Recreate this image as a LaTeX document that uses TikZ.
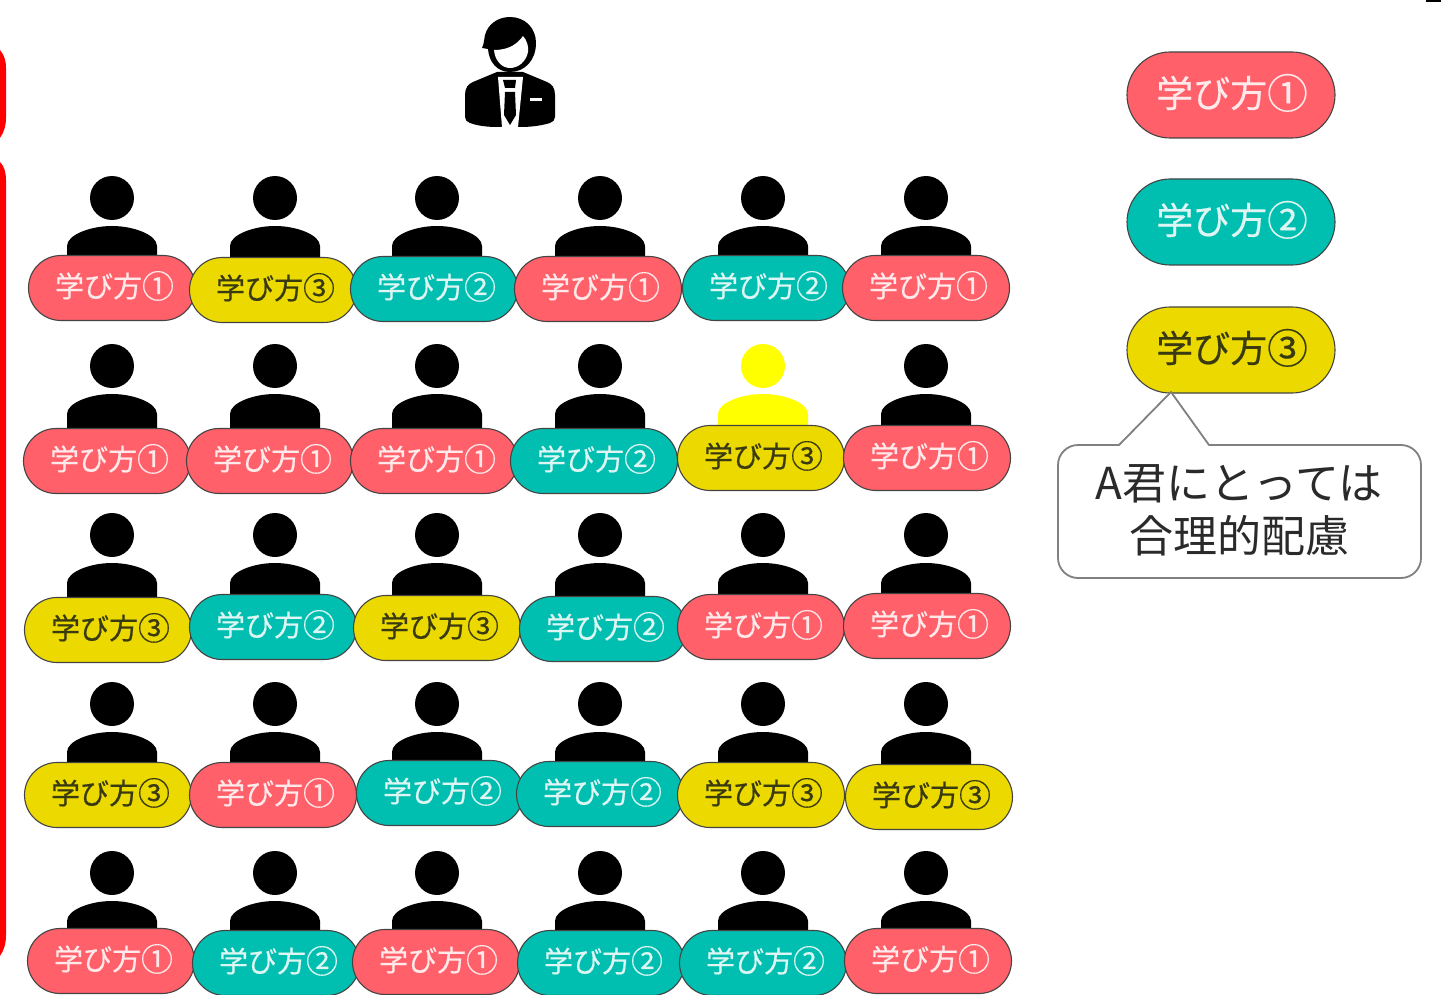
\documentclass[tikz,border=0pt]{standalone}
\usepackage{fontspec}
\setmainfont{Noto Sans CJK JP}
\newfontfamily\pillfont[FakeBold=0.4]{Noto Sans CJK JP}
\usetikzlibrary{shapes.misc}
\definecolor{pillred}{HTML}{FF6069}
\definecolor{pillteal}{HTML}{00BFB0}
\definecolor{pillyellow}{HTML}{EBD900}
\definecolor{brightyellow}{RGB}{255,255,0}
\definecolor{softwhite}{HTML}{FFE9EA}
\definecolor{tealwhite}{HTML}{DDF6F3}
\definecolor{darktext}{HTML}{3A3A10}
\definecolor{pilledge}{HTML}{444444}
\definecolor{calloutedge}{HTML}{808080}
\definecolor{calloutink}{HTML}{2A2A2A}
% #1 upward shift, #2 left padding (moves the text right by half of it), #3 circled digit
\newcommand{\pilltext}[3]{\hspace*{#2}\raisebox{#1}[0.88em][0.12em]{学び方\raisebox{-0.035em}{\scalebox{1.1}{#3}}}}
\tikzset{
  pillbase/.style={rounded rectangle,draw=pilledge,line width=1.1pt,inner sep=0pt,outer sep=0pt,align=center},
  pillsmall/.style={pillbase,minimum width=167pt,minimum height=65pt,font=\pillfont\fontsize{29}{29}\selectfont},
  pilllarge/.style={pillbase,minimum width=208pt,minimum height=86pt,font=\pillfont\fontsize{37}{37}\selectfont},
  stylea/.style={fill=pillred,text=softwhite},
  styleb/.style={fill=pillteal,text=tealwhite},
  stylec/.style={fill=pillyellow,text=darktext},
  person/.pic={
    \path[pic actions] (0,0) circle (22);
    \path[pic actions] (-45,65) -- (-45,48) .. controls (-45,37) and (-22,28) .. (0,28)
      .. controls (22,28) and (45,37) .. (45,48) -- (45,65) -- cycle;
  },
  sidebar/.style={fill=red},
  calloutbox/.style={draw=calloutedge,line width=1.8pt,fill=white,line join=round},
  callouttext/.style={text=calloutink,align=center,font=\fontsize{44}{53}\selectfont,inner sep=0pt},
}
\begin{document}
\begin{tikzpicture}[x=1pt,y=-1pt]
\useasboundingbox (0,0) rectangle (1441,995);
\fill[white] (0,0) rectangle (1441,995);

% red bars at the left edge
\path[sidebar] (-10,50) -- (0,50) .. controls (4,55) and (6,60) .. (6,68) -- (6,118)
  .. controls (6,126) and (4,132) .. (0,138) -- (-10,138) -- cycle;
\path[sidebar] (-10,162) -- (0,162) .. controls (4,166) and (6,172) .. (6,180) -- (6,935)
  .. controls (6,944) and (4,950) .. (0,956) -- (-10,956) -- cycle;

% black sliver at the top right
\fill[black] (1426,-4) rectangle (1441,2);

% teacher
\fill[black] (465,95) .. controls (465,88) and (468,84) .. (473,82)
  -- (497,72) -- (523,72) -- (547,82) .. controls (552,84) and (555,88) .. (555,95)
  -- (555,117) .. controls (555,120) and (553,122) .. (550,123)
  .. controls (540,126) and (530,127) .. (520,127) -- (498,127)
  .. controls (488,127) and (478,126) .. (470,123) .. controls (467,122) and (465,120) .. (465,117) -- cycle;
\fill[white] (498,77) -- (523,77) -- (518,127) -- (502,127) -- cycle;
\fill[black] (503,80) -- (516,80) -- (515,88) -- (505,88) -- cycle;
\fill[black] (505,92) -- (515,92) -- (516,115) -- (510,125) -- (504,115) -- cycle;
\fill[white] (530,98) rectangle (542,101);
\fill[black] (482,48) .. controls (484,44) and (484,40) .. (485,35)
  .. controls (488,24) and (498,17) .. (510,17)
  .. controls (525,17) and (536,28) .. (536,43)
  .. controls (536,60) and (525,72) .. (510,72)
  .. controls (497,72) and (489,62) .. (488,49) -- cycle;
\fill[white] (494,50) .. controls (510,50) and (518,43) .. (523,36)
  .. controls (527,40) and (529,48) .. (528,52)
  .. controls (526,62) and (518,68) .. (510,68)
  .. controls (502,68) and (495,61) .. (494,50) -- cycle;

% students
\foreach \hx/\hy in {
  112/198,275/198,437/198,600/198,763/198,926/198,
  112/366,275/366,437/366,600/366,926/366,
  112/535,275/535,437/535,600/535,763/535,926/535,
  112/704,275/704,437/704,600/704,763/704,926/704,
  112/873,275/873,437/873,600/873,763/873,926/873}
  \pic[fill=black] at (\hx,\hy) {person};
\pic[fill=brightyellow] at (763,366) {person};

% learning-style pills
\foreach \px/\py/\ps/\pt [count=\pi] in {
  112/288/stylea/①,273/290/stylec/③,434/289/styleb/②,598/289/stylea/①,766/288/styleb/②,926/288/stylea/①,
  107/461/stylea/①,270/461/stylea/①,434/461/stylea/①,594/461/styleb/②,761/458/stylec/③,927/458/stylea/①,
  108/630/stylec/③,273/627/styleb/②,437/628/stylec/③,603/629/styleb/②,761/627/stylea/①,927/626/stylea/①,
  108/795/stylec/③,273/795/stylea/①,440/793/styleb/②,600/794/styleb/②,761/795/stylec/③,929/797/stylec/③,
  111/961/stylea/①,276/963/styleb/②,436/962/stylea/①,601/963/styleb/②,763/963/styleb/②,928/961/stylea/①}
  \node[pillsmall,\ps] (pill\pi) at (\px,\py) {\pilltext{2pt}{5pt}{\pt}};

% legend
\node[pilllarge,stylea] (legenda) at (1231,95) {\pilltext{2pt}{2pt}{①}};
\node[pilllarge,styleb] (legendb) at (1231,222) {\pilltext{2pt}{2pt}{②}};
\node[pilllarge,stylec] (legendc) at (1231,350) {\pilltext{2pt}{2pt}{③}};

% callout
\coordinate (tip) at (1171,392);
\path[calloutbox] (tip) -- (1209,445) -- (1401,445)
  .. controls (1412,445) and (1421,454) .. (1421,465) -- (1421,558)
  .. controls (1421,569) and (1412,578) .. (1401,578) -- (1078,578)
  .. controls (1067,578) and (1058,569) .. (1058,558) -- (1058,465)
  .. controls (1058,454) and (1067,445) .. (1078,445) -- (1119,445) -- cycle;
\node[callouttext] (calloutlabel) at (1239,510) {A君にとっては\\合理的配慮};
\end{tikzpicture}
\end{document}
